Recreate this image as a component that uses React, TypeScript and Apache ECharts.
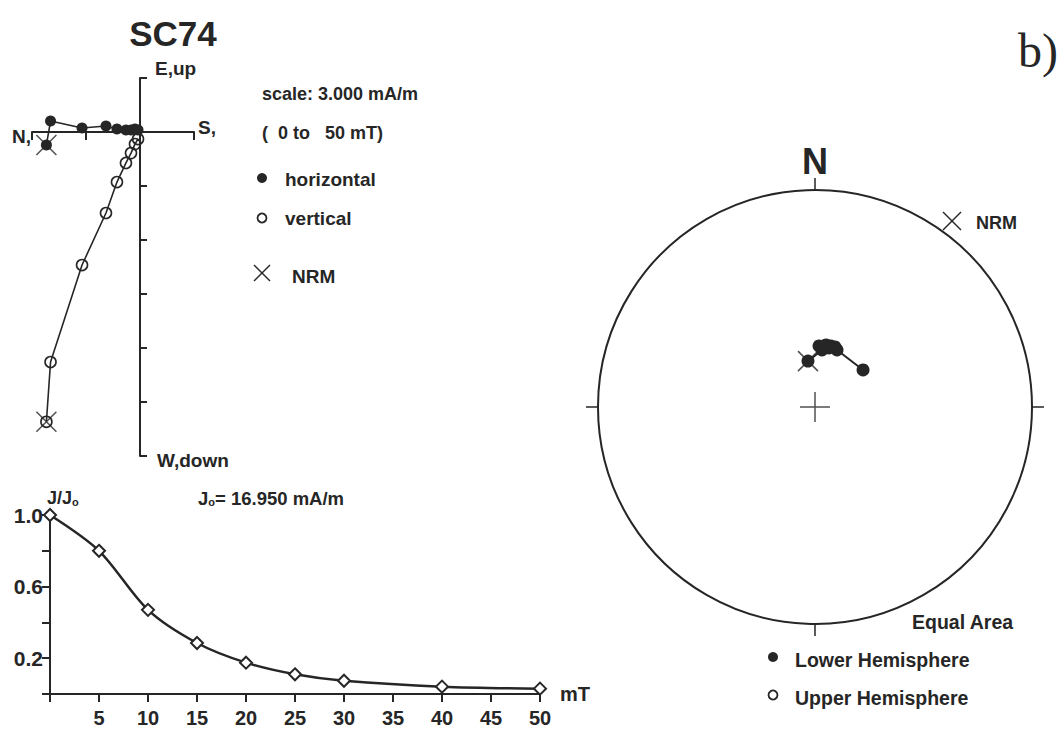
import React, { useEffect, useRef } from 'react';
import * as echarts from 'echarts';

// Demagnetisation steps (mT) and normalised intensity J/J0
const STEPS_MT = [0, 5, 10, 15, 20, 25, 30, 40, 50];
const J_RATIO = [1.0, 0.8, 0.47, 0.285, 0.175, 0.11, 0.074, 0.041, 0.03];

// Zijderveld components (mA/m) for each step
const ZIJ_NORTH = [5.2, 4.97, 3.22, 1.89, 1.28, 0.78, 0.5, 0.28, 0.11];
const ZIJ_EAST = [-0.72, 0.61, 0.22, 0.33, 0.17, 0.11, 0.11, 0.17, 0.11];
const ZIJ_DOWN = [16.1, 12.78, 7.39, 4.5, 2.78, 1.72, 1.17, 0.67, 0.39];

// Stereonet directions (degrees), lower hemisphere
const STEREO_DEC = [351.3, 7.0, 3.8, 10.1, 14.7, 18.4, 13.3, 21.1, 52.4];
const STEREO_INC = [72.6, 68.4, 67.0, 66.3, 66.3, 66.2, 67.2, 67.0, 67.2];

const Y_LABELS = [0.2, 0.6, 1.0];

const FONT = '"Liberation Sans", Arial, sans-serif';
const INK = '#262626';
const X_PATH = 'path://M0,0L10,10M10,0L0,10';
const PLUS_PATH = 'path://M5,0L5,10M0,5L10,5';

const eqArea = (inc: number) => Math.SQRT2 * Math.sin(((90 - Math.abs(inc)) / 2) * Math.PI / 180);

const txt = (text: string, x: number, y: number, size = 18, extra: any = {}) => ({
  type: 'text',
  x,
  y,
  silent: true,
  style: {
    text,
    fill: INK,
    font: `bold ${size}px ${FONT}`,
    align: 'left',
    verticalAlign: 'middle',
    ...extra,
  },
});

export default function App() {
  const ref = useRef<HTMLDivElement>(null);

  useEffect(() => {
    document.body.style.margin = '0';
    const chart = echarts.init(ref.current!, null, { renderer: 'svg' });

    const horiz = ZIJ_NORTH.map((n, i) => [-n, ZIJ_EAST[i]]);
    const vert = ZIJ_NORTH.map((n, i) => [-n, -ZIJ_DOWN[i]]);
    const demag = STEPS_MT.map((s, i) => [s, J_RATIO[i]]);
    const stereo = STEREO_DEC.map((d, i) => [eqArea(STEREO_INC[i]), d]);

    const axisLineStyle = { color: INK, width: 2 };

    const option: any = {
      animation: false,
      backgroundColor: '#ffffff',
      grid: [
        { left: 32, top: 78, width: 162, height: 378 },
        { left: 50, top: 515, width: 490, height: 179 },
      ],
      xAxis: [
        {
          gridIndex: 0,
          type: 'value',
          min: -6,
          max: 3,
          interval: 3,
          axisLine: { onZero: true, lineStyle: axisLineStyle },
          axisTick: { length: 8, lineStyle: { color: INK, width: 2 } },
          axisLabel: { show: false },
          splitLine: { show: false },
        },
        {
          gridIndex: 1,
          type: 'value',
          min: 0,
          max: 50,
          interval: 5,
          axisLine: { lineStyle: axisLineStyle },
          axisTick: { length: 8, lineStyle: { color: INK, width: 2 } },
          axisLabel: {
            color: INK,
            fontFamily: FONT,
            fontWeight: 'bold',
            fontSize: 20,
            margin: 14,
            formatter: (v: number) => (v === 0 ? '' : String(v)),
          },
          splitLine: { show: false },
          name: 'mT',
          nameLocation: 'end',
          nameGap: 20,
          nameTextStyle: { color: INK, fontFamily: FONT, fontWeight: 'bold', fontSize: 20, padding: [8, 0, 0, 0] },
        },
      ],
      yAxis: [
        {
          gridIndex: 0,
          type: 'value',
          min: -18,
          max: 3,
          interval: 3,
          axisLine: { onZero: true, lineStyle: axisLineStyle },
          axisTick: { inside: true, length: 7, lineStyle: { color: INK, width: 2 } },
          axisLabel: { show: false },
          splitLine: { show: false },
        },
        {
          gridIndex: 1,
          type: 'value',
          min: 0,
          max: 1,
          interval: 0.2,
          axisLine: { show: true, lineStyle: axisLineStyle },
          axisTick: { show: true, length: 8, lineStyle: { color: INK, width: 2 } },
          axisLabel: {
            color: INK,
            fontFamily: FONT,
            fontWeight: 'bold',
            fontSize: 21,
            margin: 7,
            formatter: (v: number) => (Y_LABELS.some((t) => Math.abs(t - v) < 1e-6) ? v.toFixed(1) : ''),
          },
          splitLine: { show: false },
        },
      ],
      polar: { center: [815, 407], radius: 217 },
      angleAxis: {
        type: 'value',
        min: 0,
        max: 360,
        interval: 90,
        startAngle: 90,
        clockwise: true,
        axisLine: { lineStyle: axisLineStyle },
        axisTick: { show: true, length: 12, lineStyle: { color: INK, width: 1.5 } },
        axisLabel: { show: false },
        splitLine: { show: false },
      },
      radiusAxis: { type: 'value', min: 0, max: 1, show: false },
      series: [
        {
          name: 'horizontal',
          type: 'line',
          xAxisIndex: 0,
          yAxisIndex: 0,
          data: horiz,
          symbol: 'circle',
          symbolSize: 11,
          itemStyle: { color: INK },
          lineStyle: { color: INK, width: 1.6 },
          z: 3,
        },
        {
          name: 'vertical',
          type: 'line',
          xAxisIndex: 0,
          yAxisIndex: 0,
          data: vert,
          symbol: 'circle',
          symbolSize: 11,
          itemStyle: { color: 'rgba(255,255,255,0)', borderColor: INK, borderWidth: 1.6 },
          lineStyle: { color: INK, width: 1.6 },
          z: 3,
        },
        {
          name: 'NRM',
          type: 'scatter',
          xAxisIndex: 0,
          yAxisIndex: 0,
          data: [horiz[0], vert[0]],
          symbol: X_PATH,
          symbolSize: 20,
          itemStyle: { color: 'none', borderColor: INK, borderWidth: 1.5 },
          z: 4,
        },
        {
          name: 'J/J0',
          type: 'line',
          xAxisIndex: 1,
          yAxisIndex: 1,
          data: demag,
          smooth: 0.3,
          symbol: 'emptyDiamond',
          symbolSize: 12,
          itemStyle: { color: INK, borderColor: INK, borderWidth: 1.5 },
          lineStyle: { color: INK, width: 2.5 },
          z: 3,
        },
        {
          name: 'Lower Hemisphere',
          type: 'line',
          coordinateSystem: 'polar',
          data: stereo,
          symbol: 'circle',
          symbolSize: 13,
          itemStyle: { color: INK },
          lineStyle: { color: INK, width: 2 },
          z: 3,
        },
        {
          name: 'NRM direction',
          type: 'scatter',
          coordinateSystem: 'polar',
          data: [stereo[0]],
          symbol: X_PATH,
          symbolSize: 20,
          itemStyle: { color: 'none', borderColor: INK, borderWidth: 1.5 },
          z: 4,
        },
        {
          name: 'centre',
          type: 'scatter',
          coordinateSystem: 'polar',
          data: [[0, 0]],
          symbol: PLUS_PATH,
          symbolSize: 30,
          itemStyle: { color: 'none', borderColor: INK, borderWidth: 1.5 },
          z: 2,
        },
      ],
      graphic: [
        txt('SC74', 173, 33, 35, { align: 'center' }),
        txt('E,up', 155, 68, 19),
        txt('S,', 198, 127, 19),
        txt('N,', 12, 136, 19),
        txt('W,down', 157, 460, 19),
        txt('scale: 3.000 mA/m', 262, 94, 18),
        txt('(  0 to   50 mT)', 262, 133, 18),
        { type: 'circle', shape: { cx: 262, cy: 178, r: 5 }, style: { fill: INK }, silent: true },
        txt('horizontal', 285, 179, 19),
        { type: 'circle', shape: { cx: 262, cy: 218, r: 4.5 }, style: { fill: 'none', stroke: INK, lineWidth: 1.8 }, silent: true },
        txt('vertical', 285, 218, 19),
        { type: 'line', shape: { x1: 254, y1: 265, x2: 270, y2: 281 }, style: { stroke: INK, lineWidth: 1.5 }, silent: true },
        { type: 'line', shape: { x1: 270, y1: 265, x2: 254, y2: 281 }, style: { stroke: INK, lineWidth: 1.5 }, silent: true },
        txt('NRM', 292, 276, 19),
        {
          type: 'text',
          x: 47,
          y: 498,
          silent: true,
          style: {
            text: '{a|J/J}{b|o}',
            align: 'left',
            verticalAlign: 'middle',
            rich: {
              a: { fill: INK, fontFamily: FONT, fontWeight: 'bold', fontSize: 18 },
              b: { fill: INK, fontFamily: FONT, fontWeight: 'bold', fontSize: 11, verticalAlign: 'bottom' },
            },
          },
        },
        {
          type: 'text',
          x: 198,
          y: 498,
          silent: true,
          style: {
            text: '{a|J}{b|o}{a|= 16.950 mA/m}',
            align: 'left',
            verticalAlign: 'middle',
            rich: {
              a: { fill: INK, fontFamily: FONT, fontWeight: 'bold', fontSize: 18.5 },
              b: { fill: INK, fontFamily: FONT, fontWeight: 'bold', fontSize: 11, verticalAlign: 'bottom' },
            },
          },
        },
        txt('N', 815, 161, 36, { align: 'center' }),
        { type: 'line', shape: { x1: 943, y1: 212, x2: 961, y2: 230 }, style: { stroke: INK, lineWidth: 1.5 }, silent: true },
        { type: 'line', shape: { x1: 961, y1: 212, x2: 943, y2: 230 }, style: { stroke: INK, lineWidth: 1.5 }, silent: true },
        txt('NRM', 976, 223, 18),
        txt('Equal Area', 912, 622, 19.5),
        { type: 'circle', shape: { cx: 773, cy: 657, r: 5 }, style: { fill: INK }, silent: true },
        txt('Lower Hemisphere', 795, 660, 19.5),
        { type: 'circle', shape: { cx: 773, cy: 695, r: 4.5 }, style: { fill: 'none', stroke: INK, lineWidth: 1.8 }, silent: true },
        txt('Upper Hemisphere', 795, 698, 19.5),
        {
          type: 'text',
          x: 1018,
          y: 50,
          silent: true,
          style: {
            text: 'b)',
            fill: INK,
            font: `48px "Liberation Serif", "Times New Roman", serif`,
            align: 'left',
            verticalAlign: 'middle',
          },
        },
      ],
    };

    chart.setOption(option);
    return () => chart.dispose();
  }, []);

  return <div ref={ref} style={{ width: 1062, height: 733, background: '#fff' }} />;
}
